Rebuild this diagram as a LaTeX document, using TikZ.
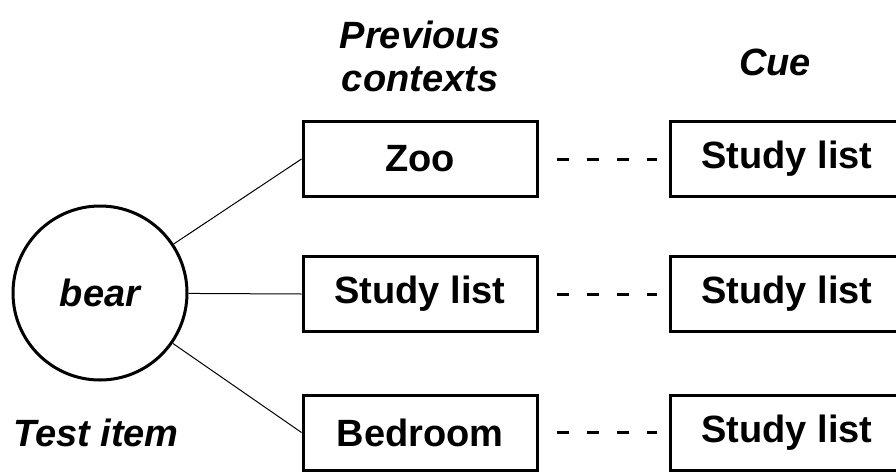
\documentclass[tikz,border=0pt]{standalone}
\usepackage{fontspec}
\setmainfont{Liberation Sans}
\begin{document}
\begin{tikzpicture}[x=1pt,y=-1pt,
  every node/.style={font=\fontsize{38}{43}\selectfont\bfseries, inner sep=0pt},
  ctxbox/.style={draw, line width=3pt, fill=white, minimum width=234pt, minimum height=75pt},
  itemcirc/.style={draw, circle, line width=3pt, minimum size=174pt},
  label/.style={font=\fontsize{38}{43}\selectfont\bfseries\itshape, align=center},
  link/.style={line width=1pt},
  dashlink/.style={line width=3pt, dash pattern=on 12pt off 18.3pt, shorten <=18pt, shorten >=12pt}]
\useasboundingbox (0,0) rectangle (896,471);
\clip (0,0) rectangle (896,471);
\node[itemcirc] (bear) at (100,293) {\itshape bear};
\node[label] (test) at (96,433) {Test item};
\node[label] (prev) at (420,56) {Previous\\contexts};
\node[label] (cue) at (775,62) {Cue};
\node[ctxbox] (zoo) at (420,159) {Zoo};
\node[ctxbox] (study) at (420,294) {Study list};
\node[ctxbox] (bed) at (420,432.5) {Bedroom};
\node[ctxbox] (cue1) at (787,159) {Study list};
\node[ctxbox] (cue2) at (787,294) {Study list};
\node[ctxbox] (cue3) at (787,432.5) {Study list};
\draw[link] (bear) -- (zoo.west);
\draw[link] (bear) -- (study.west);
\draw[link] (bear) -- (bed.west);
\draw[dashlink] (zoo.east) -- (cue1.west);
\draw[dashlink] (study.east) -- (cue2.west);
\draw[dashlink] (bed.east) -- (cue3.west);
\end{tikzpicture}
\end{document}
